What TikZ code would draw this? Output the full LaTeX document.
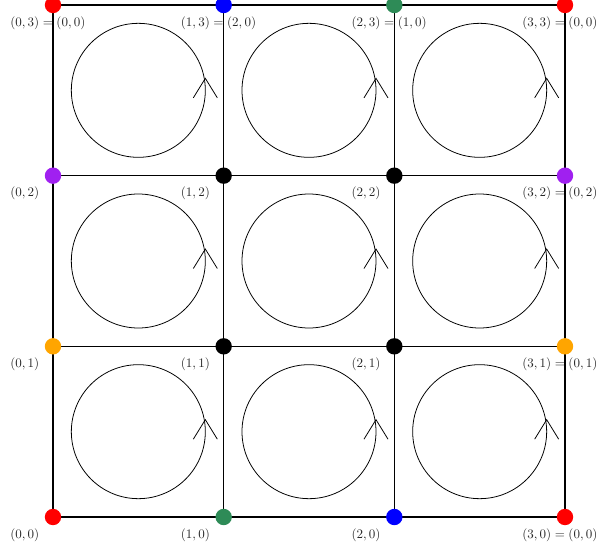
\documentclass[tikz,border=0pt]{standalone}
\definecolor{sgreen}{RGB}{46,139,87}
\definecolor{vpurple}{RGB}{160,32,240}
\definecolor{vorange}{RGB}{255,165,0}
\begin{document}
\begin{tikzpicture}[x=0.02703cm,y=-0.02703cm,
  dot/.style={circle,inner sep=0pt,minimum size=12.6pt,draw=none},
  lab/.style={anchor=west,inner sep=0pt,text=black!85},
  inner/.style={line width=0.7pt},
  outer/.style={line width=1.5pt},
  loopc/.style={line width=0.6pt}]
\useasboundingbox (0,0) rectangle (599,548);
% vertex coordinates
\foreach \i/\x in {0/53,1/223.67,2/394.33,3/565}{
  \foreach \j/\y in {0/517,1/346.33,2/175.67,3/5}{
    \coordinate (p\i\j) at (\x,\y);
  }
}
% inner grid lines
\draw[inner] (p10) -- (p13);
\draw[inner] (p20) -- (p23);
\draw[inner] (p01) -- (p31);
\draw[inner] (p02) -- (p32);
% outer border
\draw[outer] (p00) -- (p30) -- (p33) -- (p03) -- cycle;
% circles with arrows
\foreach \cx in {138.33,309,479.67}{
  \foreach \cy in {90.33,261,431.67}{
    \draw[loopc] (\cx,\cy) circle (67);
    \draw[loopc] (\cx+55,\cy+7.5) -- (\cx+67,\cy-12) -- (\cx+79,\cy+7.5);
  }
}
% dots
\node[dot,fill=red] (d00) at (p00) {};
\node[dot,fill=red] (d30) at (p30) {};
\node[dot,fill=red] (d03) at (p03) {};
\node[dot,fill=red] (d33) at (p33) {};
\node[dot,fill=blue] (d13) at (p13) {};
\node[dot,fill=blue] (d20) at (p20) {};
\node[dot,fill=sgreen] (d23) at (p23) {};
\node[dot,fill=sgreen] (d10) at (p10) {};
\node[dot,fill=vpurple] (d02) at (p02) {};
\node[dot,fill=vpurple] (d32) at (p32) {};
\node[dot,fill=vorange] (d01) at (p01) {};
\node[dot,fill=vorange] (d31) at (p31) {};
\node[dot,fill=black] (d11) at (p11) {};
\node[dot,fill=black] (d12) at (p12) {};
\node[dot,fill=black] (d21) at (p21) {};
\node[dot,fill=black] (d22) at (p22) {};
% labels
\node[lab] (l03) at ([shift={(-43,18)}]p03) {$(0,3)=(0,0)$};
\node[lab] (l13) at ([shift={(-43,18)}]p13) {$(1,3)=(2,0)$};
\node[lab] (l23) at ([shift={(-43,18)}]p23) {$(2,3)=(1,0)$};
\node[lab] (l33) at ([shift={(-43,18)}]p33) {$(3,3)=(0,0)$};
\node[lab] (l02) at ([shift={(-43,18)}]p02) {$(0,2)$};
\node[lab] (l12) at ([shift={(-43,18)}]p12) {$(1,2)$};
\node[lab] (l22) at ([shift={(-43,18)}]p22) {$(2,2)$};
\node[lab] (l32) at ([shift={(-43,18)}]p32) {$(3,2)=(0,2)$};
\node[lab] (l01) at ([shift={(-43,18)}]p01) {$(0,1)$};
\node[lab] (l11) at ([shift={(-43,18)}]p11) {$(1,1)$};
\node[lab] (l21) at ([shift={(-43,18)}]p21) {$(2,1)$};
\node[lab] (l31) at ([shift={(-43,18)}]p31) {$(3,1)=(0,1)$};
\node[lab] (l00) at ([shift={(-43,18)}]p00) {$(0,0)$};
\node[lab] (l10) at ([shift={(-43,18)}]p10) {$(1,0)$};
\node[lab] (l20) at ([shift={(-43,18)}]p20) {$(2,0)$};
\node[lab] (l30) at ([shift={(-43,18)}]p30) {$(3,0)=(0,0)$};
\end{tikzpicture}
\end{document}
